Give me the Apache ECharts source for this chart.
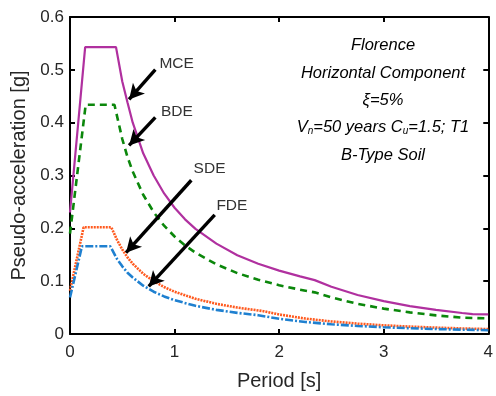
<!DOCTYPE html>
<html>
<head>
<meta charset="utf-8">
<script src="https://cdn.jsdelivr.net/npm/echarts@6/dist/echarts.min.js"></script>
<style>
html,body{margin:0;padding:0;background:#fff;}
#chart{width:496px;height:396px;}
</style>
</head>
<body>
<div id="chart"></div>
<script>
// ---- Data ----
const xTicks = [0, 1, 2, 3, 4];
const yTicks = [0, 0.1, 0.2, 0.3, 0.4, 0.5, 0.6];

const mcePeriods = [0, 0.145, 0.44, 0.5, 0.55, 0.6, 0.7, 0.8, 0.9, 1.0, 1.1, 1.2, 1.4, 1.6, 1.8, 2.0, 2.2, 2.34, 2.5, 2.75, 3.0, 3.25, 3.5, 3.75, 3.85, 4.0];
const mceValues  = [0.23, 0.543, 0.543, 0.478, 0.438, 0.400, 0.342, 0.300, 0.266, 0.239, 0.217, 0.199, 0.171, 0.149, 0.133, 0.120, 0.109, 0.102, 0.0894, 0.0739, 0.0621, 0.0529, 0.0456, 0.0398, 0.0376, 0.037];

const bdePeriods = [0, 0.15, 0.425, 0.5, 0.55, 0.6, 0.7, 0.8, 0.9, 1.0, 1.1, 1.2, 1.4, 1.6, 1.8, 2.0, 2.2, 2.34, 2.5, 2.75, 3.0, 3.25, 3.5, 3.75, 4.0];
const bdeValues  = [0.19, 0.434, 0.434, 0.369, 0.335, 0.3075, 0.2636, 0.2306, 0.205, 0.1845, 0.1677, 0.1538, 0.1318, 0.1153, 0.1025, 0.0923, 0.0839, 0.0788, 0.0691, 0.0571, 0.048, 0.0409, 0.0352, 0.031, 0.0295];

const sdePeriods = [0, 0.13, 0.395, 0.45, 0.5, 0.55, 0.6, 0.7, 0.8, 0.9, 1.0, 1.2, 1.4, 1.6, 1.85, 2.0, 2.25, 2.5, 2.75, 3.0, 3.25, 3.5, 3.75, 4.0];
const sdeValues  = [0.082, 0.202, 0.202, 0.178, 0.160, 0.145, 0.133, 0.114, 0.100, 0.0889, 0.080, 0.0667, 0.0571, 0.050, 0.0432, 0.037, 0.0292, 0.0237, 0.0196, 0.0164, 0.014, 0.0121, 0.0105, 0.0093];

const fdePeriods = [0, 0.114, 0.385, 0.45, 0.5, 0.55, 0.6, 0.7, 0.8, 0.9, 1.0, 1.2, 1.4, 1.6, 1.8, 2.0, 2.25, 2.5, 2.75, 3.0, 3.25, 3.5, 3.75, 4.0];
const fdeValues  = [0.069, 0.166, 0.166, 0.142, 0.128, 0.116, 0.107, 0.0914, 0.080, 0.0711, 0.064, 0.0533, 0.0457, 0.040, 0.0356, 0.0288, 0.0228, 0.0184, 0.0152, 0.0128, 0.0109, 0.0094, 0.0082, 0.0072];

const seriesNames = ['MCE', 'BDE', 'SDE', 'FDE'];
// annotation label anchors and arrows, in data units (period, acceleration)
const labelAnchors = [[0.855, 0.512], [0.87, 0.421], [1.182, 0.313], [1.40, 0.243]];
const arrowStarts  = [[0.816, 0.5006], [0.816, 0.410], [1.160, 0.291], [1.384, 0.2256]];
const arrowEnds    = [[0.565, 0.444], [0.565, 0.357], [0.536, 0.154], [0.753, 0.090]];

const infoLines = ['Florence', 'Horizontal Component', 'ξ=5%', 'VN', 'B-Type Soil'];

function pairs(xs, ys) { return xs.map((x, i) => [x, ys[i]]); }

const FONT = '"Liberation Sans", Arial, Helvetica, sans-serif';
const chart = echarts.init(document.getElementById('chart'), null, {renderer: 'canvas'});

const axisLineStyle = {color: '#000', width: 2};
const baseX = {
  type: 'value', min: 0, max: 4, interval: 1,
  splitLine: {show: false},
  axisLine: {show: true, onZero: false, lineStyle: axisLineStyle},
  axisTick: {show: true, inside: true, length: 5, lineStyle: axisLineStyle}
};
const baseY = {
  type: 'value', min: 0, max: 0.6, interval: 0.1,
  splitLine: {show: false},
  axisLine: {show: true, onZero: false, lineStyle: axisLineStyle},
  axisTick: {show: true, inside: true, length: 5, lineStyle: axisLineStyle}
};

const tickFmtY = v => {
  const r = Math.round(v * 10) / 10;
  return yTicks.indexOf(r) >= 0 ? String(r) : '';
};

const option = {
  animation: false,
  backgroundColor: '#fff',
  textStyle: {fontFamily: FONT},
  grid: {left: 70, right: 1, top: 17, bottom: 59, containLabel: false},
  xAxis: [
    Object.assign({}, baseX, {
      position: 'bottom',
      axisLabel: {fontSize: 17, color: '#262626', margin: 10, fontFamily: FONT,
        alignMaxLabel: 'center', alignMinLabel: 'center', hideOverlap: false,
        formatter: v => (xTicks.indexOf(v) >= 0 ? String(v) : '')},
      name: 'Period [s]', nameLocation: 'middle', nameGap: 37,
      nameTextStyle: {fontSize: 20, color: '#262626', fontFamily: FONT}
    }),
    Object.assign({}, baseX, {position: 'top', axisLabel: {show: false}})
  ],
  yAxis: [
    Object.assign({}, baseY, {
      position: 'left',
      axisLabel: {fontSize: 17, color: '#262626', margin: 6, fontFamily: FONT, formatter: tickFmtY},
      name: 'Pseudo-acceleration [g]', nameLocation: 'middle', nameGap: 33,
      nameTextStyle: {fontSize: 20, color: '#262626', fontFamily: FONT}
    }),
    Object.assign({}, baseY, {position: 'right', axisLabel: {show: false}})
  ],
  series: [
    {name: 'MCE', type: 'line', data: pairs(mcePeriods, mceValues), showSymbol: false, symbol: 'none',
     lineStyle: {color: '#b0309f', width: 2.2}, z: 2},
    {name: 'BDE', type: 'line', data: pairs(bdePeriods, bdeValues), showSymbol: false, symbol: 'none',
     lineStyle: {color: '#0b870b', width: 2.6, type: [7, 5]}, z: 2},
    {name: 'SDE', type: 'line', data: pairs(sdePeriods, sdeValues), showSymbol: false, symbol: 'none',
     lineStyle: {color: '#ff5a1f', width: 2.6, type: [2, 1]}, z: 2},
    {name: 'FDE', type: 'line', data: pairs(fdePeriods, fdeValues), showSymbol: false, symbol: 'none',
     lineStyle: {color: '#1f80d0', width: 2.6, type: [8, 2, 2, 2]}, z: 2},
    {name: 'annotations', type: 'line', data: [], z: 5, silent: true,
     markLine: {
       silent: true, animation: false,
       symbol: ['none', 'arrow'], symbolSize: [12, 15],
       label: {show: false},
       lineStyle: {color: '#000', width: 3.4, type: 'solid'},
       data: arrowStarts.map((s, i) => [{coord: s}, {coord: arrowEnds[i]}])
     },
     markPoint: {
       silent: true, animation: false,
       symbol: 'circle', symbolSize: 0,
       label: {show: true, position: 'right', distance: 0, color: '#333', fontSize: 15.5,
               fontFamily: FONT, formatter: p => p.name},
       data: labelAnchors.map((c, i) => ({name: seriesNames[i], coord: c}))
     }
    }
  ],
  graphic: (function () {
    const ys = [45, 73, 100, 127, 155];
    const it = {fontSize: 16.5, fontStyle: 'italic', fontFamily: FONT, fill: '#000', lineHeight: 22};
    const sub = {fontSize: 10, fontStyle: 'italic', fontFamily: FONT, fill: '#000', padding: [8, 0, 0, 0]};
    return infoLines.map((t, i) => {
      const text = t === 'VN' ? '{n|V}{s|n}{n|=50 years C}{s|u}{n|=1.5; T1}' : '{n|' + t + '}';
      return {
        type: 'text', x: 383, y: ys[i], z: 10, silent: true,
        style: {text: text, align: 'center', verticalAlign: 'middle', rich: {n: it, s: sub},
                font: 'italic 16.5px ' + FONT, fill: '#000'}
      };
    });
  })()
};

chart.setOption(option);
</script>
</body>
</html>
